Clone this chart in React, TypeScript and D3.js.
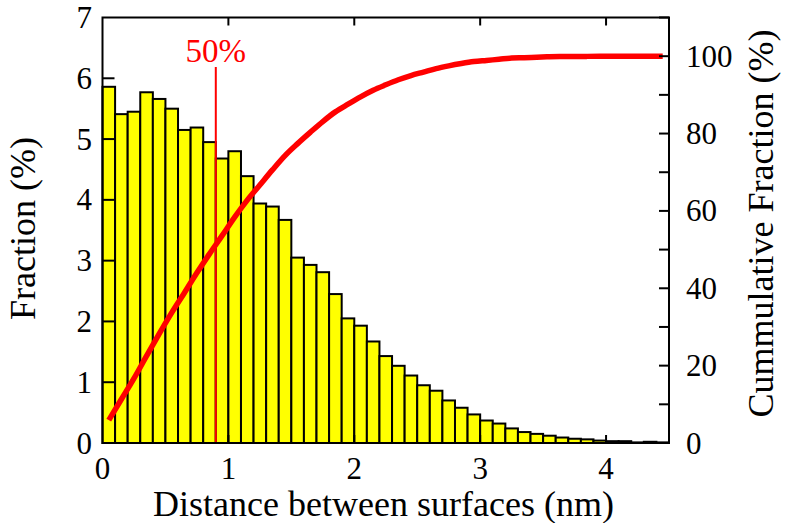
import React from "react";
import * as d3 from "d3";

// Histogram of distances between surfaces (bins of 0.1 nm starting at 0)
const binWidth = 0.1;
const fraction = [
  5.86, 5.41, 5.45, 5.77, 5.66, 5.5, 5.15, 5.19, 4.95, 4.68,
  4.8, 4.39, 3.94, 3.89, 3.67, 3.05, 2.93, 2.81, 2.45, 2.05,
  1.93, 1.67, 1.43, 1.27, 1.11, 0.95, 0.86, 0.7, 0.58, 0.47,
  0.37, 0.32, 0.24, 0.18, 0.15, 0.12, 0.09, 0.07, 0.06, 0.04,
  0.03, 0.03, 0.01, 0.02, 0.01,
];
// Cumulative fraction (%) read at each bin centre
const cumulative = [
  5.9, 11.3, 16.7, 22.5, 28.2, 33.7, 38.8, 44.0, 48.9, 53.6,
  58.4, 62.8, 66.7, 70.6, 74.3, 77.4, 80.3, 83.1, 85.6, 87.6,
  89.5, 91.2, 92.6, 93.9, 95.0, 95.9, 96.8, 97.5, 98.1, 98.6,
  98.9, 99.2, 99.5, 99.6, 99.75, 99.85, 99.9, 99.93, 99.95, 99.97,
  99.98, 99.99, 100, 100, 100,
];
const median = 0.9;
const xTicks = [0, 1, 2, 3, 4];
const yTicks = [0, 1, 2, 3, 4, 5, 6, 7];
const y2Ticks = [0, 20, 40, 60, 80, 100];
const y2Minor = [10, 30, 50, 70, 90, 110];

const W = 785;
const H = 523;
const M = { left: 102.5, right: 116, top: 17.5, bottom: 80 };
const ts: React.CSSProperties = { fontFamily: '"Liberation Serif"' };

export default function App() {
  const x = d3.scaleLinear().domain([0, 4.5]).range([M.left, W - M.right]);
  const y = d3.scaleLinear().domain([0, 7]).range([H - M.bottom, M.top]);
  const y2 = d3.scaleLinear().domain([0, 110]).range([H - M.bottom, M.top]);
  const x0 = x.range()[0];
  const x1 = x.range()[1];
  const yb = y.range()[0];
  const yt = y.range()[1];

  const line = d3
    .line<number>()
    .x((_, i) => x(i * binWidth + binWidth / 2))
    .y((d) => y2(d))
    .curve(d3.curveMonotoneX);

  return (
    <svg
      width={W}
      height={H}
      style={{ position: "absolute", left: 0, top: 0, background: "#fff" }}
    >
      {/* bars */}
      {fraction.map((v, i) => (
        <rect
          key={i}
          x={x(i * binWidth)}
          y={y(v)}
          width={x((i + 1) * binWidth) - x(i * binWidth)}
          height={yb - y(v)}
          fill="#ffff00"
          stroke="#000"
          strokeWidth={2}
        />
      ))}
      {/* median line */}
      <line x1={x(median)} x2={x(median)} y1={67} y2={yb} stroke="#ff0000" strokeWidth={2} />
      <text x={x(median)} y={62} textAnchor="middle" fontSize={33} fill="#ff0000" style={ts}>
        50%
      </text>
      {/* cumulative curve */}
      <path d={line(cumulative) || ""} fill="none" stroke="#ff0000" strokeWidth={5.5} />
      {/* frame */}
      <rect x={x0} y={yt} width={x1 - x0} height={yb - yt} fill="none" stroke="#000" strokeWidth={2} />
      {/* x ticks (inward, bottom and top) */}
      {xTicks.slice(1).map((t) => (
        <g key={"xt" + t}>
          <line x1={x(t)} x2={x(t)} y1={yb} y2={yb - 8} stroke="#000" strokeWidth={2} />
          <line x1={x(t)} x2={x(t)} y1={yt} y2={yt + 8} stroke="#000" strokeWidth={2} />
        </g>
      ))}
      {xTicks.map((t) => (
        <text key={"xl" + t} x={x(t)} y={479} textAnchor="middle" fontSize={31} fill="#000" style={ts}>
          {t}
        </text>
      ))}
      {/* left ticks */}
      {yTicks.slice(1, -1).map((t) => (
        <line key={"yt" + t} x1={x0} x2={x0 + 12} y1={y(t)} y2={y(t)} stroke="#000" strokeWidth={2} />
      ))}
      {yTicks.map((t) => (
        <text key={"yl" + t} x={92} y={y(t)} dy="0.34em" textAnchor="end" fontSize={31} fill="#000" style={ts}>
          {t}
        </text>
      ))}
      {/* right ticks */}
      {[...y2Ticks.slice(1), ...y2Minor].map((t) => (
        <line key={"y2t" + t} x1={x1} x2={x1 - 10} y1={y2(t)} y2={y2(t)} stroke="#000" strokeWidth={2} />
      ))}
      {y2Ticks.map((t) => (
        <text key={"y2l" + t} x={686} y={y2(t)} dy="0.34em" textAnchor="start" fontSize={31} fill="#000" style={ts}>
          {t}
        </text>
      ))}
      {/* axis titles */}
      <text x={383.5} y={516} textAnchor="middle" fontSize={36} fill="#000" style={ts}>
        Distance between surfaces (nm)
      </text>
      <text transform="translate(35,228.5) rotate(-90)" textAnchor="middle" fontSize={36} fill="#000" style={ts}>
        Fraction (%)
      </text>
      <text transform="translate(773,223.5) rotate(-90)" textAnchor="middle" fontSize={36} fill="#000" style={ts}>
        Cummulative Fraction (%)
      </text>
    </svg>
  );
}
